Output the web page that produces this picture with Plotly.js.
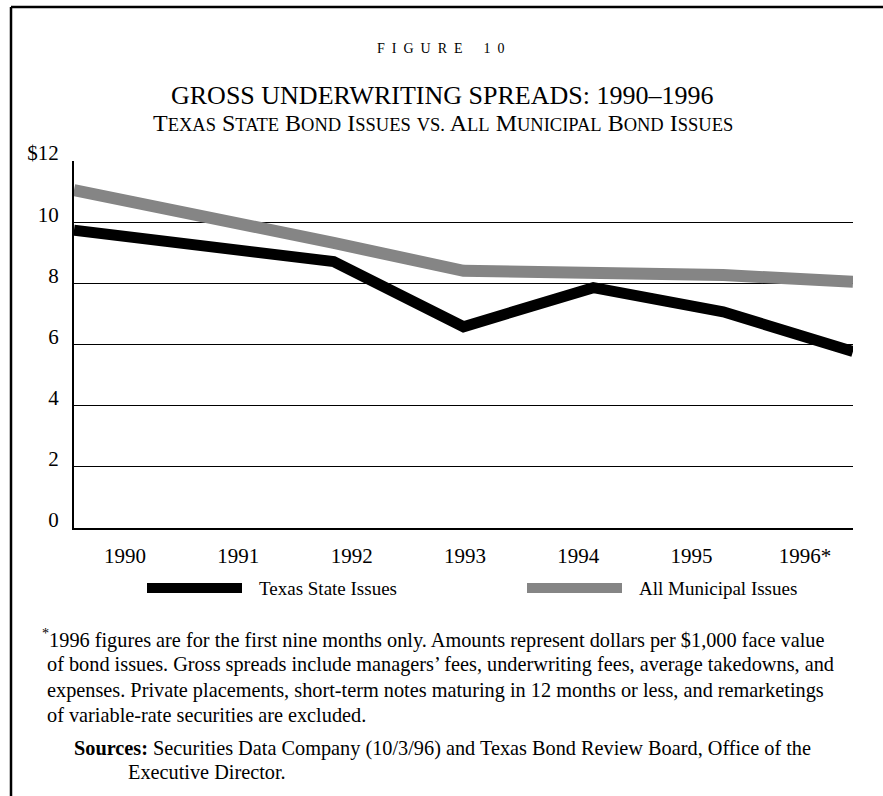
<!DOCTYPE html>
<html>
<head>
<meta charset="utf-8">
<script src="https://cdn.plot.ly/plotly-3.0.1.min.js"></script>
<style>
  html, body { margin: 0; padding: 0; background: #ffffff; }
  #chart { width: 883px; height: 796px; }
</style>
</head>
<body>
<div id="chart"></div>
<script>
// ---- data ----
const years = ['1990', '1991', '1992', '1993', '1994', '1995', '1996*'];
const texasState = [9.74, 9.2, 8.71, 6.58, 7.86, 7.07, 5.77];
const allMunicipal = [11.05, 10.23, 9.32, 8.41, 8.38, 8.27, 8.05];
const seriesNames = ['Texas State Issues', 'All Municipal Issues'];
const yTickVals = [0, 2, 4, 6, 8, 10, 12];
const yTickText = ['0', '2', '4', '6', '8', '10', '$12'];

// ---- geometry helpers (plot area 74..853 x 161..528) ----
const L = 74, R = 853, T = 161, B = 528;
const W = 883, H = 796;
const px = v => (v - L) / (R - L);
const py = v => (B - v) / (B - T);

const SERIF = 'Liberation Serif, Times New Roman, serif';
const idx = years.map((_, i) => i);

// small-caps builder for the subtitle
function smallCaps(str, big, small) {
  return str.split(' ').map(w => {
    if (w === w.toLowerCase()) {
      return '<span style="font-size:' + small + 'px">' + w.toUpperCase() + '</span>';
    }
    return '<span style="font-size:' + big + 'px">' + w[0] + '</span>' +
           '<span style="font-size:' + small + 'px">' + w.slice(1).toUpperCase() + '</span>';
  }).join(' ');
}

const traces = [
  {
    x: idx, y: allMunicipal, type: 'scatter', mode: 'lines', name: seriesNames[1],
    line: { color: '#858585', width: 12 }, xaxis: 'x', yaxis: 'y', hoverinfo: 'skip'
  },
  {
    x: idx, y: texasState, type: 'scatter', mode: 'lines', name: seriesNames[0],
    line: { color: '#000000', width: 11 }, xaxis: 'x', yaxis: 'y', hoverinfo: 'skip'
  },
  {
    x: idx, y: idx.map(() => null), type: 'scatter', mode: 'lines', xaxis: 'x2', yaxis: 'y',
    showlegend: false, hoverinfo: 'skip'
  }
];

const footLines = [
  { t: '<sup>*</sup>1996 figures are for the first nine months only. Amounts represent dollars per $1,000 face value', x: 40, y: 638 },
  { t: 'of bond issues. Gross spreads include managers’ fees, underwriting fees, average takedowns, and', x: 45, y: 664 },
  { t: 'expenses. Private placements, short-term notes maturing in 12 months or less, and remarketings', x: 45, y: 690 },
  { t: 'of variable-rate securities are excluded.', x: 45, y: 715 },
  { t: '<b>Sources:</b> Securities Data Company (10/3/96) and Texas Bond Review Board, Office of the', x: 72, y: 748 },
  { t: 'Executive Director.', x: 126, y: 772 }
];

const annotations = [
  { text: 'F\u2002I\u2002G\u2002U\u2002R\u2002E\u2002\u2002\u20021\u20020', x: px(441), y: py(48), font: { size: 14, family: SERIF, color: '#000' } },
  { text: 'GROSS UNDERWRITING SPREADS: 1990–1996', x: px(442), y: py(96), font: { size: 26, family: SERIF, color: '#000' } },
  { text: smallCaps('Texas State Bond Issues vs. All Municipal Bond Issues', 24, 18.5), x: px(443), y: py(123), font: { size: 24, family: SERIF, color: '#000' } },
  { text: seriesNames[0], x: px(257), y: py(588), xanchor: 'left', font: { size: 19, family: SERIF, color: '#000' } },
  { text: seriesNames[1], x: px(637), y: py(588), xanchor: 'left', font: { size: 19, family: SERIF, color: '#000' } }
].map(a => Object.assign({ xref: 'paper', yref: 'paper', showarrow: false, xanchor: 'center', yanchor: 'middle' }, a));

footLines.forEach(f => annotations.push({
  text: f.t, x: px(f.x), y: py(f.y), xref: 'paper', yref: 'paper', showarrow: false,
  xanchor: 'left', yanchor: 'middle', align: 'left',
  font: { size: 20.3, family: SERIF, color: '#000' }
}));

const shapes = [
  // outer frame (top and left)
  { type: 'line', xref: 'paper', yref: 'paper', x0: px(11), x1: px(883), y0: py(7), y1: py(7), line: { color: '#000', width: 2.5 } },
  { type: 'line', xref: 'paper', yref: 'paper', x0: px(11), x1: px(11), y0: py(7), y1: py(796), line: { color: '#000', width: 2.5 } },
  // legend swatches
  { type: 'rect', xref: 'paper', yref: 'paper', x0: px(147), x1: px(242), y0: py(583), y1: py(593), fillcolor: '#000', line: { width: 0 } },
  { type: 'rect', xref: 'paper', yref: 'paper', x0: px(527), x1: px(622), y0: py(583), y1: py(593), fillcolor: '#858585', line: { width: 0 } }
];

const layout = {
  width: W, height: H,
  margin: { l: L, r: W - R, t: T, b: H - B, pad: 0 },
  paper_bgcolor: '#ffffff', plot_bgcolor: '#ffffff',
  showlegend: false,
  font: { family: SERIF, color: '#000' },
  xaxis: {
    range: [0, 6], showgrid: false, zeroline: false, showticklabels: false,
    showline: true, linecolor: '#000', linewidth: 2, ticks: '', fixedrange: true
  },
  xaxis2: {
    overlaying: 'x', anchor: 'y', side: 'bottom', range: [-0.45, 6.424],
    tickvals: idx, ticktext: years, showgrid: false, zeroline: false, showline: false,
    ticks: '', ticklabelstandoff: 13, tickfont: { size: 21, family: SERIF, color: '#000' }
  },
  yaxis: {
    range: [0, 12], tickvals: yTickVals, ticktext: yTickText,
    showgrid: true, gridcolor: '#000', gridwidth: 1.3, zeroline: false,
    showline: true, linecolor: '#000', linewidth: 2, ticks: '',
    ticklabelstandoff: 9, ticklabelshift: -8,
    tickfont: { size: 21, family: SERIF, color: '#000' }, fixedrange: true
  },
  annotations: annotations,
  shapes: shapes
};

Plotly.newPlot('chart', traces, layout, { displayModeBar: false, staticPlot: true });
</script>
</body>
</html>
